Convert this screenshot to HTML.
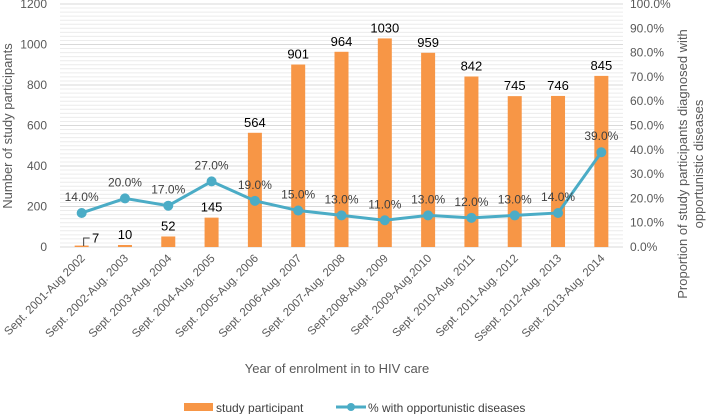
<!DOCTYPE html>
<html><head><meta charset="utf-8"><style>
body{margin:0;background:#fff;}
svg{display:block;font-family:"Liberation Sans",sans-serif;}
</style></head><body>
<svg id="chart" width="709" height="414" xmlns="http://www.w3.org/2000/svg"></svg>
<script>
const categories=["Sept. 2001-Aug 2002","Sept. 2002-Aug. 2003","Sept. 2003-Aug. 2004","Sept. 2004-Aug. 2005","Sept. 2005-Aug. 2006","Sept. 2006-Aug. 2007","Sept. 2007-Aug. 2008","Sept.2008-Aug. 2009","Sept. 2009-Aug.2010","Sept. 2010-Aug. 2011","Sept. 2011-Aug. 2012","Ssept. 2012-Aug. 2013","Sept. 2013-Aug. 2014"];
const participants=[7,10,52,145,564,901,964,1030,959,842,745,746,845];
const percents=[14,20,17,27,19,15,13,11,13,12,13,14,39];
const leftTicks=[0,200,400,600,800,1000,1200];
const rightTicks=[0,10,20,30,40,50,60,70,80,90,100];

const svg=document.getElementById('chart');
const NS='http://www.w3.org/2000/svg';
const X0=60,X1=623,Y0=247,Y1=4;
const band=(X1-X0)/categories.length;
const xc=i=>X0+band*(i+0.5);
const yL=v=>Y0-(v/1200)*(Y0-Y1);
const yR=v=>Y0-(v/100)*(Y0-Y1);
function mk(tag,attrs,parent){const e=document.createElementNS(NS,tag);for(const k in attrs)e.setAttribute(k,attrs[k]);(parent||svg).appendChild(e);return e;}
function txt(s,attrs){const e=mk('text',attrs);e.textContent=s;return e;}

// grid minor lines every 20
for(let v=0;v<=1200;v+=20){
  const g=mk('line',{x1:X0,x2:X1,y1:yL(v),y2:yL(v),stroke:v%200===0?'#d9d9d9':'#ececec','stroke-width':1});
  
  
}
leftTicks.forEach(v=>{
  const t=txt(String(v),{x:47,y:yL(v)+4,'text-anchor':'end','font-size':12,fill:'#595959'});
  
  
});
rightTicks.forEach(v=>{
  const t=txt(v.toFixed(1)+'%',{x:630,y:yR(v)+4,'font-size':12,fill:'#595959'});
  
  
});
// bars
participants.forEach((v,i)=>{
  const b=mk('rect',{x:xc(i)-7,y:yL(v),width:14,height:Y0-yL(v),fill:'#f79646'});
  
  
  let lx=xc(i),ly=yL(v)-6;
  if(i===0){lx=xc(i)+14;ly=yL(v)-3;
    const ld=mk('path',{d:`M${xc(i)+2} ${Y0-1} L${xc(i)+2} ${Y0-9} L${xc(i)+8} ${Y0-9}`,stroke:'#404040',fill:'none','stroke-width':1});
    
    
  }
  const t=txt(String(v),{x:lx,y:ly,'text-anchor':'middle','font-size':13,fill:'#000'});
  
  
});
// line
const pts=percents.map((p,i)=>xc(i)+','+yR(p)).join(' ');
const pl=mk('polyline',{points:pts,fill:'none',stroke:'#4bacc6','stroke-width':3});


percents.forEach((p,i)=>{
  const c=mk('circle',{cx:xc(i),cy:yR(p),r:5,fill:'#4bacc6'});
  
  
  const t=txt(p.toFixed(1)+'%',{x:xc(i),y:yR(p)-12,'text-anchor':'middle','font-size':12,fill:'#404040'});
  
  
});
// x labels
categories.forEach((c,i)=>{
  const t=txt(c,{x:0,y:0,'text-anchor':'end','font-size':11.5,fill:'#595959',transform:`translate(${xc(i)+4},${Y0+12}) rotate(-45)`});
  
  
});
let t;
t=txt('Number of study participants',{x:0,y:0,'text-anchor':'middle','font-size':13,fill:'#595959',transform:'translate(12,126) rotate(-90)'});


t=txt('Proportion of study participants diagnosed with',{x:0,y:0,'text-anchor':'middle','font-size':13,fill:'#595959',transform:'translate(687,164) rotate(-90)'});


t=txt('opportunistic diseases',{x:0,y:0,'text-anchor':'middle','font-size':13,fill:'#595959',transform:'translate(703,164) rotate(-90)'});


t=txt('Year of enrolment in to HIV care',{x:337,y:373,'text-anchor':'middle','font-size':13,fill:'#595959'});


// legend
let r=mk('rect',{x:184,y:403,width:29,height:8,fill:'#f79646'});


t=txt('study participant',{x:216,y:412,'font-size':12,fill:'#404040'});


let l=mk('line',{x1:336,x2:366,y1:407,y2:407,stroke:'#4bacc6','stroke-width':3});


let c=mk('circle',{cx:351,cy:407,r:4,fill:'#4bacc6'});


t=txt('% with opportunistic diseases',{x:368,y:412,'font-size':12,fill:'#404040'});


</script>
</body></html>
